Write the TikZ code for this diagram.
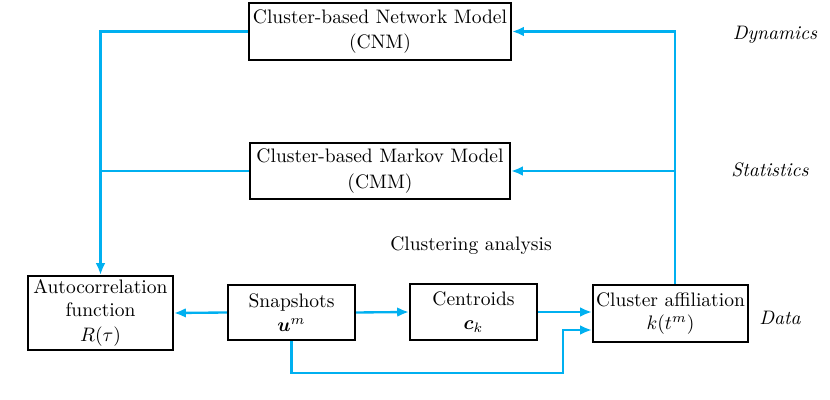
\documentclass[tikz,border=0pt]{standalone}
\usepackage{bm}
\usetikzlibrary{arrows.meta,positioning,calc}
\definecolor{flowblue}{RGB}{0,176,240}

\begin{document}
\begin{tikzpicture}[x=0.018cm,y=-0.018cm,
  block/.style={draw,line width=1.1pt,align=center,inner sep=1pt},
  flow/.style={draw=flowblue,line width=1.2pt},
  tag/.style={font=\itshape}]
\useasboundingbox (0,0) rectangle (830,400);
% model boxes
\node[block,minimum width=262*0.018cm,minimum height=57*0.018cm] (cnm) at (380,31.5) {Cluster-based Network Model\\[1pt](CNM)};
\node[block,minimum width=260*0.018cm,minimum height=56*0.018cm] (cmm) at (380,171) {Cluster-based Markov Model\\[1pt](CMM)};
% data boxes
\node[block,minimum width=145*0.018cm,minimum height=74*0.018cm] (acf) at (100.5,313) {Autocorrelation\\function\\[1pt]$R(\tau)$};
\node[block,minimum width=127*0.018cm,minimum height=55*0.018cm] (snap) at (291.5,312.5) {Snapshots\\$\bm{u}^m$};
\node[block,minimum width=127*0.018cm,minimum height=56*0.018cm] (cent) at (473.5,312) {Centroids\\$\bm{c}_k$};
\node[block,minimum width=155*0.018cm,minimum height=57*0.018cm] (aff) at (670.5,313.5) {Cluster affiliation\\$k(t^m)$};
% labels
\node[tag] (dyn) at (775,35) {Dynamics};
\node[tag] (stat) at (770,170) {Statistics};
\node[tag] (dat) at (780,318) {Data};
\node (clu) at (471,246) {Clustering analysis};
% connectors
\coordinate (lx) at (101,0);
\coordinate (rx) at (675,0);
\coordinate (by) at (0,373);
\coordinate (kx) at (563,330);
\draw[flow,-{Latex[length=6pt,width=5pt]}] (cnm.west) -| (acf.north);
\draw[flow] (cmm.west) -- (lx |- cmm.west);
\draw[flow,-{Latex[length=6pt,width=5pt]}] (rx |- aff.north) |- (cnm.east);
\draw[flow,-{Latex[length=6pt,width=5pt]}] (rx |- cmm.east) -- (cmm.east);
\draw[flow,-{Latex[length=6pt,width=5pt]}] (snap.west) -- (acf.east);
\draw[flow,-{Latex[length=6pt,width=5pt]}] (snap.east) -- (cent.west);
\draw[flow,-{Latex[length=6pt,width=5pt]}] (cent.east) -- (aff.west |- cent.east);
\draw[flow,-{Latex[length=6pt,width=5pt]}] (snap.south) -- (snap.south |- by) -| (kx) -- (aff.west |- kx);
\end{tikzpicture}
\end{document}
